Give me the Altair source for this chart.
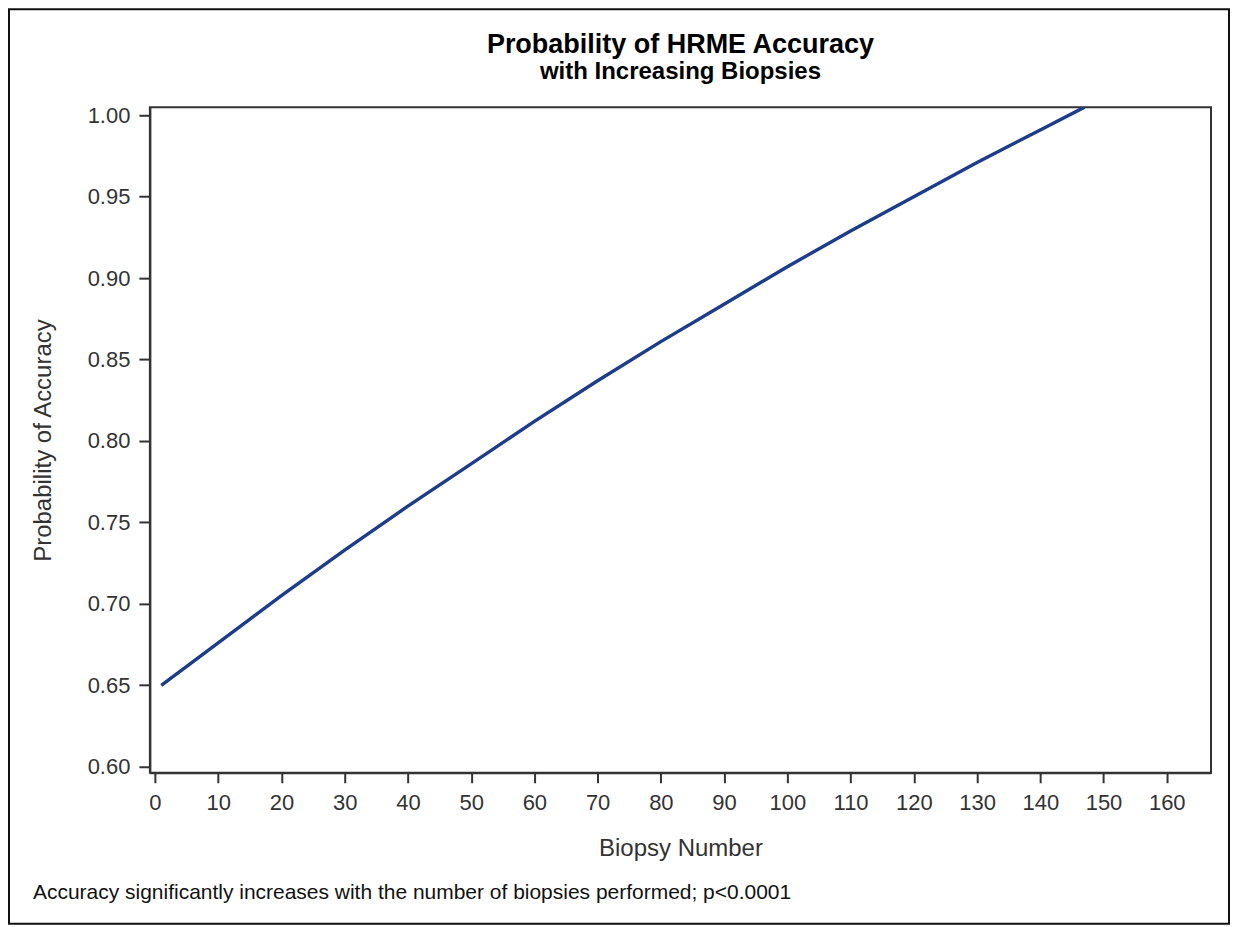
import altair as alt
import pandas as pd

# Data
biopsy_number = [1, 10, 20, 30, 40, 50, 60, 70, 80, 90, 100, 110, 120, 130, 140, 147]
prob_accuracy = [0.650, 0.676, 0.705, 0.733, 0.760, 0.786, 0.812, 0.837, 0.861,
                 0.884, 0.907, 0.929, 0.950, 0.971, 0.991, 1.005]
x_ticks = list(range(0, 170, 10))
y_ticks = [0.60, 0.65, 0.70, 0.75, 0.80, 0.85, 0.90, 0.95, 1.00]

title_text = "Probability of HRME Accuracy"
subtitle_text = "with Increasing Biopsies"
x_title = "Biopsy Number"
y_title = "Probability of Accuracy"
footnote = "Accuracy significantly increases with the number of biopsies performed; p<0.0001"

FONT = "Liberation Sans, Arial, Helvetica, sans-serif"
W, H = 1062, 666

df = pd.DataFrame({"x": biopsy_number, "y": prob_accuracy})

line = alt.Chart(df).mark_line(color="#1c3c8c", strokeWidth=3.4, clip=True).encode(
    x=alt.X("x:Q", title=x_title,
            scale=alt.Scale(domain=[-0.8, 167], nice=False, zero=False),
            axis=alt.Axis(values=x_ticks, grid=False, tickSize=10, labelPadding=10,
                          titlePadding=23, labelFlush=False)),
    y=alt.Y("y:Q", title=y_title,
            scale=alt.Scale(domain=[0.5963, 1.0049], nice=False, zero=False),
            axis=alt.Axis(values=y_ticks, format=".2f", grid=False, tickSize=11,
                          labelPadding=9, titlePadding=32, labelFlush=False)),
)

one = pd.DataFrame({"t": [footnote], "title": [title_text], "sub": [subtitle_text]})

border = alt.Chart(one).mark_rect(filled=False, stroke="#111111", strokeWidth=2).encode(
    x=alt.value(-141), x2=alt.value(1080), y=alt.value(-98), y2=alt.value(817)
)

note = alt.Chart(one).mark_text(align="left", baseline="middle", font=FONT,
                                fontSize=21, color="#111111").encode(
    x=alt.value(-117), y=alt.value(786), text="t:N"
)

title1 = alt.Chart(one).mark_text(align="center", baseline="alphabetic", font=FONT,
                                  fontSize=27, fontWeight="bold", color="#000000").encode(
    x=alt.value(W / 2), y=alt.value(-54), text="title:N"
)

title2 = alt.Chart(one).mark_text(align="center", baseline="alphabetic", font=FONT,
                                  fontSize=24, fontWeight="bold", color="#000000").encode(
    x=alt.value(W / 2), y=alt.value(-28), text="sub:N"
)

chart = alt.layer(line, note, title1, title2, border).properties(
    width=W, height=H,
    autosize=alt.AutoSizeParams(type="none"),
    padding={"left": 142, "top": 99, "right": 19, "bottom": 152},
).configure_view(
    stroke="#333333", strokeWidth=2
).configure_axis(
    labelFont=FONT, titleFont=FONT, labelFontSize=22, titleFontSize=24,
    titleFontWeight="normal", labelColor="#333333", titleColor="#333333",
    domainColor="#333333", tickColor="#333333", domainWidth=2, tickWidth=2
)

chart.save("out.html", embed_options={"renderer": "svg", "actions": False})
